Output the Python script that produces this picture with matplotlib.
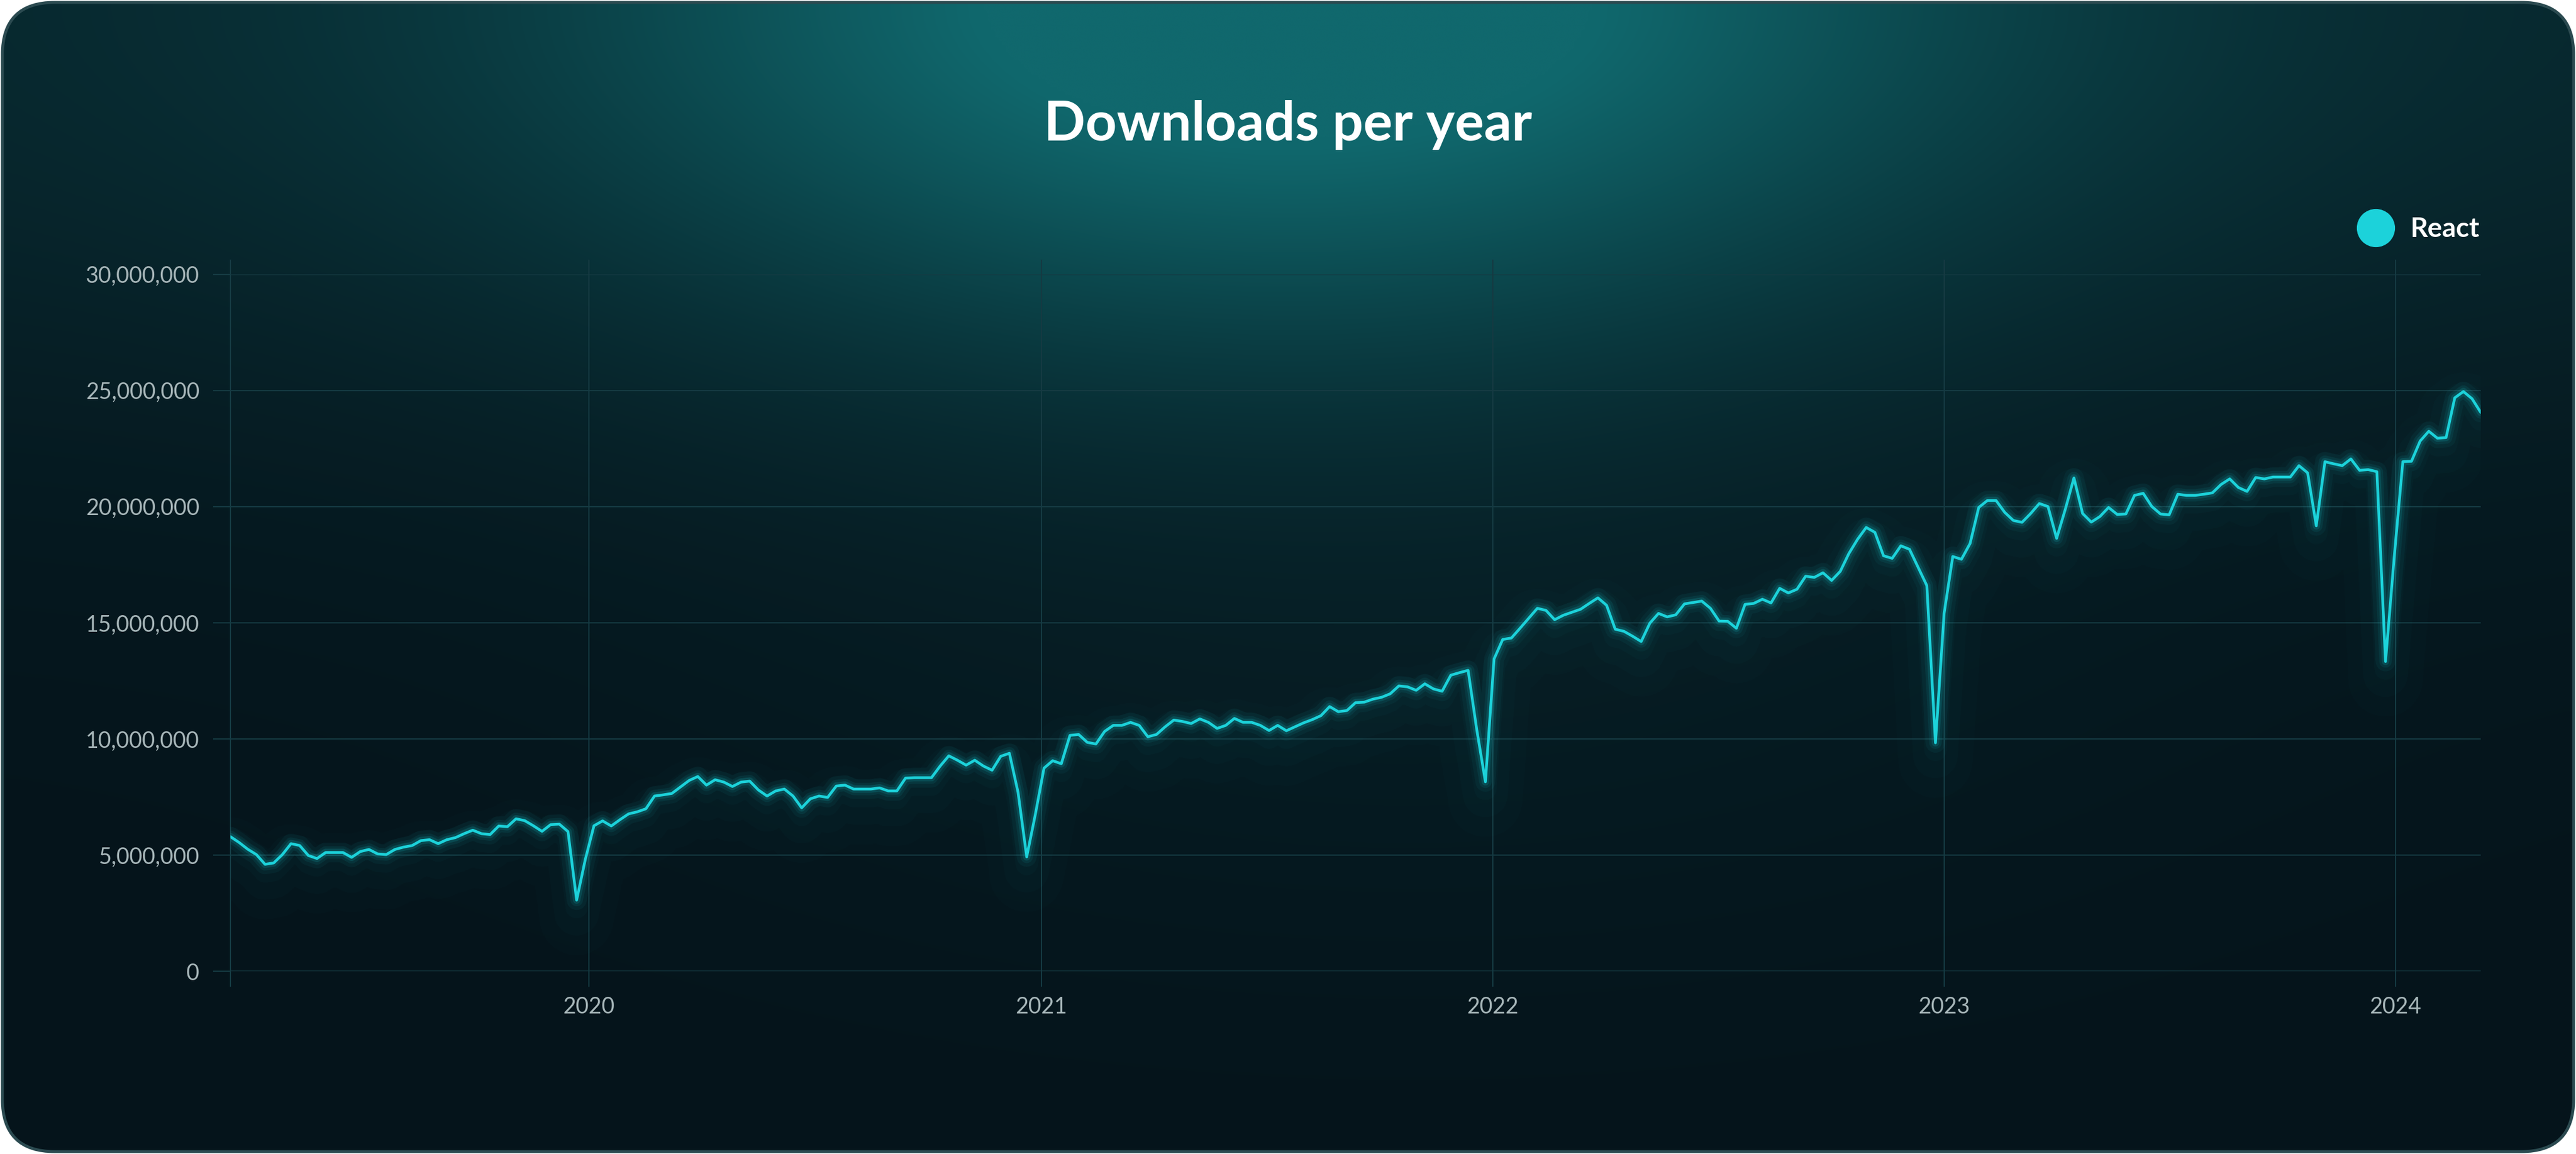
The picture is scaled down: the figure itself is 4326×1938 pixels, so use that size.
import numpy as np
import pandas as pd
import matplotlib
matplotlib.use("Agg")
import matplotlib.pyplot as plt
import matplotlib.transforms as mtransforms
from matplotlib.patches import FancyBboxPatch, Circle
from matplotlib.ticker import FuncFormatter

W, H, DPI = 4326, 1938, 300

# weekly react downloads (millions), one list per calendar year
first_week = "2019-03-17"
downloads_2019 = [5.79, 5.54, 5.25, 5.02, 4.60, 4.66, 5.02, 5.49, 5.41, 4.98,
                  4.85, 5.11, 5.11, 5.11, 4.90, 5.15, 5.24, 5.05, 5.02, 5.24,
                  5.34, 5.41, 5.62, 5.66, 5.49, 5.66, 5.75, 5.92, 6.07, 5.92,
                  5.88, 6.25, 6.22, 6.56, 6.48, 6.26, 6.02, 6.31, 6.33, 6.01,
                  3.06, 4.81]
downloads_2020 = [6.26, 6.47, 6.25, 6.52, 6.77, 6.86, 6.99, 7.54, 7.59, 7.65,
                  7.93, 8.21, 8.38, 8.01, 8.24, 8.14, 7.95, 8.14, 8.18, 7.80,
                  7.54, 7.76, 7.84, 7.54, 7.03, 7.42, 7.54, 7.48, 7.97, 8.01,
                  7.84, 7.84, 7.84, 7.89, 7.76, 7.76, 8.31, 8.33, 8.33, 8.33,
                  8.83, 9.27, 9.08, 8.87, 9.08, 8.83, 8.65, 9.25, 9.38, 7.70,
                  4.92, 6.75]
downloads_2021 = [8.74, 9.06, 8.93, 10.15, 10.19, 9.85, 9.78, 10.32, 10.58, 10.58,
                  10.71, 10.58, 10.09, 10.19, 10.52, 10.81, 10.75, 10.66, 10.86, 10.71,
                  10.45, 10.58, 10.88, 10.71, 10.71, 10.58, 10.36, 10.58, 10.35, 10.52,
                  10.69, 10.83, 11.00, 11.39, 11.17, 11.22, 11.56, 11.58, 11.71, 11.79,
                  11.94, 12.28, 12.24, 12.09, 12.37, 12.15, 12.05, 12.74, 12.85, 12.95,
                  10.40, 8.15]
downloads_2022 = [13.44, 14.28, 14.34, 14.76, 15.19, 15.62, 15.53, 15.13, 15.32, 15.45,
                  15.58, 15.83, 16.07, 15.75, 14.72, 14.63, 14.42, 14.19, 14.98, 15.40,
                  15.25, 15.34, 15.81, 15.87, 15.93, 15.62, 15.07, 15.06, 14.76, 15.79,
                  15.83, 16.01, 15.85, 16.48, 16.28, 16.44, 17.00, 16.95, 17.15, 16.82,
                  17.21, 17.98, 18.59, 19.10, 18.89, 17.88, 17.77, 18.31, 18.16, 17.38,
                  16.60, 9.83]
downloads_2023 = [15.40, 17.85, 17.73, 18.41, 19.96, 20.26, 20.26, 19.75, 19.40, 19.32,
                  19.70, 20.13, 20.00, 18.63, 19.88, 21.23, 19.70, 19.33, 19.57, 19.96,
                  19.66, 19.68, 20.48, 20.57, 20.00, 19.68, 19.64, 20.53, 20.48, 20.48,
                  20.53, 20.59, 20.95, 21.19, 20.82, 20.65, 21.25, 21.19, 21.27, 21.27,
                  21.27, 21.76, 21.45, 19.17, 21.93, 21.84, 21.76, 22.05, 21.56, 21.59,
                  21.50, 13.33, 17.80]
downloads_2024 = [21.93, 21.95, 22.82, 23.24, 22.94, 22.97, 24.68, 24.95, 24.64, 24.05]

year_ticks = ["2020", "2021", "2022", "2023", "2024"]
y_ticks = [0, 5e6, 10e6, 15e6, 20e6, 25e6, 30e6]
series_name = "React"
title = "Downloads per year"

downloads = np.array(downloads_2019 + downloads_2020 + downloads_2021 +
                     downloads_2022 + downloads_2023 + downloads_2024) * 1e6
weeks = pd.date_range(first_week, periods=len(downloads), freq="7D")

cyan = "#1cd2da"
grid_col = "#153a42"
label_col = "#a7b6b9"
plt.rcParams["font.family"] = ["Lato", "DejaVu Sans"]

fig = plt.figure(figsize=(W / DPI, H / DPI), dpi=DPI)
fig.patch.set_facecolor("white")

# background card, teal glow at the top
bg = fig.add_axes([0, 0, 1, 1])
bg.set_xlim(0, W)
bg.set_ylim(H, 0)
bg.axis("off")
gy, gx = np.mgrid[0:1:300j, 0:1:700j]
base = np.array([5, 20, 27]) / 255
teal = np.array([16, 104, 109]) / 255
glow = 0.95 * np.exp(-((gx - 0.5) / 0.27) ** 2 - (gy / 0.30) ** 2)
haze = 0.22 * np.exp(-(gy / 0.38) ** 2)
centre = 0.07 * np.exp(-((gx - 0.55) / 0.3) ** 2 - ((gy - 0.6) / 0.25) ** 2)
mix = np.clip(glow + haze + centre, 0, 1)[..., None]
img = base + (teal - base) * mix
card = FancyBboxPatch((4, 4), W - 8, H - 8, boxstyle="round,pad=0,rounding_size=88",
                      facecolor="none", edgecolor="#2b4a50", linewidth=1.2, zorder=3)
bg.add_patch(card)
im = bg.imshow(img, extent=(0, W, H, 0), aspect="auto", interpolation="bicubic", zorder=1)
im.set_clip_path(card)

# title and legend
fig.text(0.5, 1 - 210 / H, title, ha="center", va="center", fontsize=22,
         fontweight="bold", color="white")
bg.add_patch(Circle((3990, 383), 30, color=cyan, zorder=4))
bg.text(4047, 385, series_name, ha="left", va="center", fontsize=11,
        fontweight="bold", color="white", zorder=4)

# chart area
left, right, top, bottom = 387, 4166, 460.5, 1631
ax = fig.add_axes([left / W, 1 - bottom / H, (right - left) / W, (bottom - top) / H])
ax.patch.set_alpha(0)
ax.set_xlim(weeks[0], weeks[-1])
ax.set_ylim(0, 30e6)
for s in ax.spines.values():
    s.set_visible(False)

ax.set_yticks(y_ticks)
ax.yaxis.set_major_formatter(FuncFormatter(lambda v, p: f"{v:,.0f}"))
ax.tick_params(axis="y", length=7, width=0.5, color=grid_col, pad=5.5,
               labelsize=9, labelcolor=label_col)
ax.grid(axis="y", color=grid_col, linewidth=0.5)

year_pos = [pd.Timestamp(y + "-01-01") for y in year_ticks]
ax.set_xticks(year_pos)
ax.set_xticklabels(year_ticks)
ax.tick_params(axis="x", length=0, pad=10, labelsize=9, labelcolor=label_col)

vt = mtransforms.blended_transform_factory(ax.transData, ax.transAxes)
for d in [weeks[0]] + year_pos:
    ax.plot([d, d], [-0.021, 1.02], color=grid_col, lw=0.5, transform=vt, clip_on=False)

# soft haze under the line, then glow, then the line itself
for dy, lw, a in [(30, 30, 0.012), (22, 18, 0.018), (12, 9, 0.025)]:
    shift = ax.transData + mtransforms.ScaledTranslation(0, -dy / DPI, fig.dpi_scale_trans)
    ax.plot(weeks, downloads, color=cyan, lw=lw, alpha=a, transform=shift,
            solid_joinstyle="round", solid_capstyle="round")
for lw, a in [(8, 0.05), (5, 0.08), (3, 0.14)]:
    ax.plot(weeks, downloads, color=cyan, lw=lw, alpha=a,
            solid_joinstyle="round", solid_capstyle="round")
ax.plot(weeks, downloads, color=cyan, lw=1.1, solid_joinstyle="round",
        solid_capstyle="round")

fig.savefig("out.png", dpi=DPI, facecolor=fig.get_facecolor())
